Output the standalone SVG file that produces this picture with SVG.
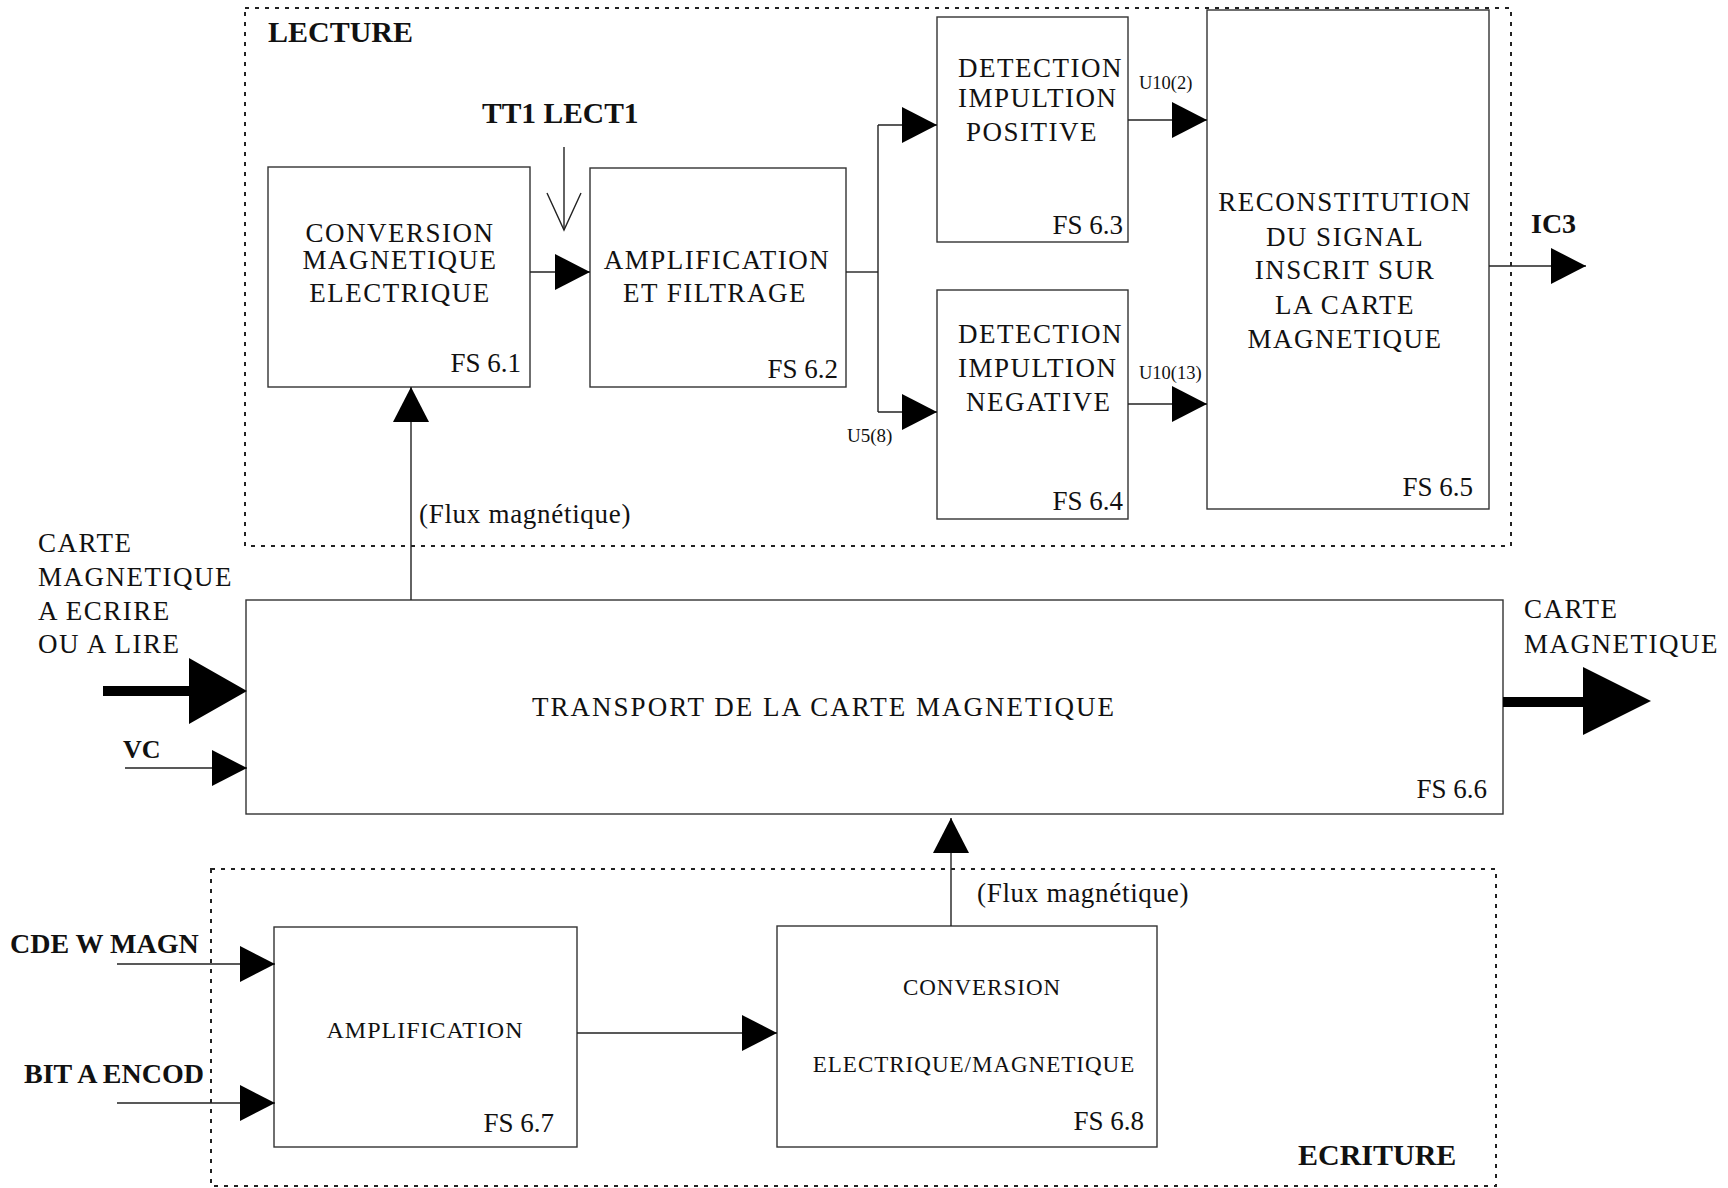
<svg xmlns="http://www.w3.org/2000/svg" width="1728" height="1188" viewBox="0 0 1728 1188">
<style>
  text { font-family: "Liberation Serif", "Times New Roman", serif; fill: #111; }
  .t { font-size: 27px; letter-spacing: 1.5px; }
  .tc { text-anchor: middle; }
  .fs { font-size: 27px; text-anchor: end; }
  .s { font-size: 23px; letter-spacing: 1px; }
  .sm { font-size: 18.5px; }
  .b { font-size: 28px; font-weight: bold; }
  .bl { font-size: 30px; font-weight: bold; }
  .fx { font-size: 27px; letter-spacing: 0.7px; }
  .box { fill: none; stroke: #333; stroke-width: 1.4; }
  .grp { fill: none; stroke: #222; stroke-width: 2; stroke-dasharray: 4 6; }
  .ln { fill: none; stroke: #222; stroke-width: 1.4; }
  .big { fill: #000; }
</style>
<defs>
  <marker id="ah" viewBox="0 0 35 36" refX="35" refY="18" markerWidth="35" markerHeight="36" markerUnits="userSpaceOnUse" orient="auto">
    <path d="M0,0 L35,18 L0,36 Z" fill="#000"/>
  </marker>
</defs>

<g id="lecture">
  <rect class="grp" x="245" y="8" width="1266" height="538"/>
  <text class="bl" x="268" y="42">LECTURE</text>
</g>
<g id="ecriture">
  <rect class="grp" x="211" y="869" width="1285" height="317"/>
  <text class="bl" x="1298" y="1165">ECRITURE</text>
</g>

<g id="fs61">
  <rect class="box" x="268" y="167" width="262" height="220"/>
  <text class="t tc" x="400" y="242">CONVERSION</text>
  <text class="t tc" x="400" y="269">MAGNETIQUE</text>
  <text class="t tc" x="400" y="302">ELECTRIQUE</text>
  <text class="fs" x="521" y="372">FS 6.1</text>
</g>
<g id="fs62">
  <rect class="box" x="590" y="168" width="256" height="219"/>
  <text class="t tc" x="717" y="269">AMPLIFICATION</text>
  <text class="t tc" x="715" y="302">ET FILTRAGE</text>
  <text class="fs" x="838" y="378">FS 6.2</text>
</g>
<g id="fs63">
  <rect class="box" x="937" y="17" width="191" height="225"/>
  <text class="t" x="958" y="77">DETECTION</text>
  <text class="t" x="958" y="107">IMPULTION</text>
  <text class="t" x="966" y="141">POSITIVE</text>
  <text class="fs" x="1123" y="234">FS 6.3</text>
</g>
<g id="fs64">
  <rect class="box" x="937" y="290" width="191" height="229"/>
  <text class="t" x="958" y="343">DETECTION</text>
  <text class="t" x="958" y="377">IMPULTION</text>
  <text class="t" x="966" y="411">NEGATIVE</text>
  <text class="fs" x="1123" y="510">FS 6.4</text>
</g>
<g id="fs65">
  <rect class="box" x="1207" y="10" width="282" height="499"/>
  <text class="t tc" x="1345" y="211">RECONSTITUTION</text>
  <text class="t tc" x="1345" y="246">DU SIGNAL</text>
  <text class="t tc" x="1345" y="279">INSCRIT SUR</text>
  <text class="t tc" x="1345" y="314">LA CARTE</text>
  <text class="t tc" x="1345" y="348">MAGNETIQUE</text>
  <text class="fs" x="1473" y="496">FS 6.5</text>
</g>
<g id="fs66">
  <rect class="box" x="246" y="600" width="1257" height="214"/>
  <text class="t tc" x="824" y="716" style="letter-spacing:2px">TRANSPORT DE LA CARTE MAGNETIQUE</text>
  <text class="fs" x="1487" y="798">FS 6.6</text>
</g>
<g id="fs67">
  <rect class="box" x="274" y="927" width="303" height="220"/>
  <text class="s tc" x="425" y="1038" style="font-size:24px">AMPLIFICATION</text>
  <text class="fs" x="554" y="1132">FS 6.7</text>
</g>
<g id="fs68">
  <rect class="box" x="777" y="926" width="380" height="221"/>
  <text class="s tc" x="982" y="995">CONVERSION</text>
  <text class="s tc" x="974" y="1072">ELECTRIQUE/MAGNETIQUE</text>
  <text class="fs" x="1144" y="1130">FS 6.8</text>
</g>

<g id="labels">
  <text class="bl" x="482" y="123" style="font-size:29.5px">TT1 LECT1</text>
  <text class="b" x="1531" y="233">IC3</text>
  <text class="sm" x="1139" y="89">U10(2)</text>
  <text class="sm" x="1139" y="379">U10(13)</text>
  <text class="sm" x="847" y="442" style="font-size:19px">U5(8)</text>
  <text class="fx" x="419" y="523">(Flux magnétique)</text>
  <text class="fx" x="977" y="902">(Flux magnétique)</text>
  <text class="t" x="38" y="552">CARTE</text>
  <text class="t" x="38" y="586">MAGNETIQUE</text>
  <text class="t" x="38" y="620">A ECRIRE</text>
  <text class="t" x="38" y="653">OU A LIRE</text>
  <text class="t" x="1524" y="618">CARTE</text>
  <text class="t" x="1524" y="653">MAGNETIQUE</text>
  <text class="b" x="123" y="758" style="font-size:26px">VC</text>
  <text class="b" x="10" y="953">CDE W MAGN</text>
  <text class="b" x="24" y="1083">BIT A ENCOD</text>
</g>

<g id="connectors">
  <line class="ln" x1="530" y1="272" x2="590" y2="272" marker-end="url(#ah)"/>
  <polyline class="ln" points="846,272 878,272"/>
  <line class="ln" x1="878" y1="125" x2="878" y2="412"/>
  <line class="ln" x1="878" y1="125" x2="937" y2="125" marker-end="url(#ah)"/>
  <line class="ln" x1="878" y1="412" x2="937" y2="412" marker-end="url(#ah)"/>
  <line class="ln" x1="1128" y1="120" x2="1207" y2="120" marker-end="url(#ah)"/>
  <line class="ln" x1="1128" y1="404" x2="1207" y2="404" marker-end="url(#ah)"/>
  <line class="ln" x1="1489" y1="266" x2="1586" y2="266" marker-end="url(#ah)"/>
  <line class="ln" x1="411" y1="600" x2="411" y2="387" marker-end="url(#ah)"/>
  <line class="ln" x1="951" y1="926" x2="951" y2="818" marker-end="url(#ah)"/>
  <line class="ln" x1="577" y1="1033" x2="777" y2="1033" marker-end="url(#ah)"/>
  <line class="ln" x1="117" y1="964" x2="275" y2="964" marker-end="url(#ah)"/>
  <line class="ln" x1="117" y1="1103" x2="275" y2="1103" marker-end="url(#ah)"/>
  <line class="ln" x1="125" y1="768" x2="247" y2="768" marker-end="url(#ah)"/>
  <polyline class="ln" points="564,147 564,230"/>
  <polyline class="ln" points="547,193 564,230 581,193"/>
  <path class="big" d="M103,686 L189,686 L189,658 L247,691 L189,724 L189,696 L103,696 Z"/>
  <path class="big" d="M1503,697 L1583,697 L1583,667 L1651,701 L1583,735 L1583,707 L1503,707 Z"/>
</g>
</svg>
